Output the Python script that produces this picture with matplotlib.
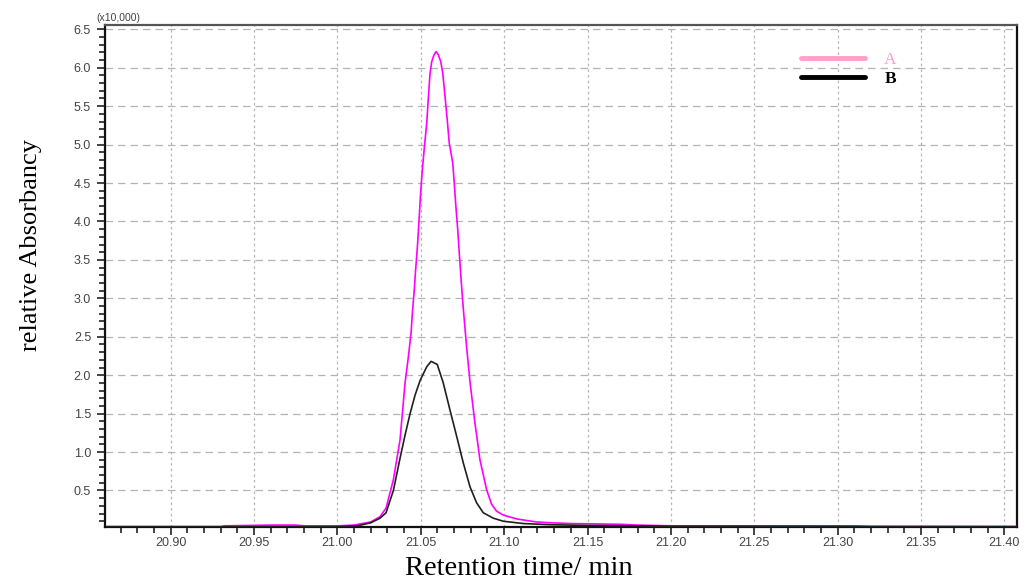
import numpy as np
import matplotlib
matplotlib.use("Agg")
import matplotlib.pyplot as plt
from matplotlib.lines import Line2D
from matplotlib.ticker import MultipleLocator, FormatStrFormatter

# retention time (min) and absorbance (x10,000)
time_a = [20.862, 20.930, 20.932, 20.960, 20.975, 20.980, 21.000, 21.010, 21.020,
          21.0256, 21.0292, 21.0336, 21.0376, 21.0406, 21.0426, 21.0442, 21.0450,
          21.0460, 21.0468, 21.0480, 21.0490, 21.0498, 21.0508, 21.0522, 21.0536,
          21.0546, 21.0556, 21.0566, 21.0580, 21.0592, 21.0605, 21.0620, 21.0632,
          21.0646, 21.0659, 21.0671, 21.0692, 21.0701, 21.0711, 21.0722, 21.0731,
          21.0741, 21.0751, 21.0761, 21.0775, 21.0796, 21.0825, 21.0855, 21.0895,
          21.0925, 21.0955, 21.0995, 21.1075, 21.1195, 21.1275, 21.140, 21.170,
          21.180, 21.200, 21.310, 21.320, 21.4075]
abs_a = [0.02, 0.02, 0.04, 0.05, 0.05, 0.04, 0.04, 0.05, 0.09,
         0.16, 0.27, 0.64, 1.16, 1.90, 2.24, 2.55, 2.81,
         3.07, 3.33, 3.67, 4.02, 4.32, 4.63, 4.97, 5.28,
         5.62, 5.93, 6.08, 6.17, 6.21, 6.17, 6.08, 5.93,
         5.62, 5.32, 5.02, 4.76, 4.50, 4.19, 3.89, 3.59,
         3.28, 2.98, 2.72, 2.37, 1.90, 1.38, 0.90, 0.51,
         0.32, 0.23, 0.18, 0.13, 0.09, 0.08, 0.07, 0.06,
         0.05, 0.04, 0.04, 0.03, 0.03]

time_b = [20.862, 20.950, 21.000, 21.012, 21.0201, 21.0256, 21.0292, 21.0336,
          21.0376, 21.0406, 21.0436, 21.0466, 21.0496, 21.0536, 21.0562, 21.0599,
          21.0635, 21.0675, 21.0716, 21.0755, 21.0795, 21.0835, 21.0875, 21.0935,
          21.0995, 21.1115, 21.1275, 21.150, 21.200, 21.4075]
abs_b = [0.03, 0.03, 0.03, 0.04, 0.08, 0.14, 0.21, 0.50,
         0.92, 1.22, 1.50, 1.74, 1.93, 2.11, 2.18, 2.14,
         1.90, 1.55, 1.20, 0.86, 0.55, 0.34, 0.21, 0.14,
         0.10, 0.07, 0.055, 0.045, 0.035, 0.03]

labels = ["A", "B"]

W, H = 1025, 580
fig = plt.figure(figsize=(W / 100, H / 100), dpi=100)
ax = fig.add_axes([105 / W, 1 - 527 / H, 912 / W, 502 / H])

ax.plot(time_a, abs_a, color="#ff00ff", lw=1.2, zorder=3)
ax.plot(time_b, abs_b, color="#202020", lw=1.2, zorder=4)

ax.set_xlim(20.8607, 21.4075)
ax.set_ylim(0.025, 6.556)

ax.xaxis.set_major_locator(MultipleLocator(0.05))
ax.xaxis.set_minor_locator(MultipleLocator(0.01))
ax.yaxis.set_major_locator(MultipleLocator(0.5))
ax.yaxis.set_minor_locator(MultipleLocator(0.1))
ax.xaxis.set_major_formatter(FormatStrFormatter("%.2f"))
ax.yaxis.set_major_formatter(FormatStrFormatter("%.1f"))

ax.tick_params(which="major", direction="out", length=6, width=1.2, color="#222222",
               labelsize=9, labelcolor="#444444", pad=4)
ax.tick_params(axis="x", which="major", pad=1)
ax.tick_params(which="minor", direction="out", length=4, width=1.2, color="#222222")
for lab in ax.get_xticklabels() + ax.get_yticklabels():
    lab.set_family("Liberation Sans")

# grid: long dashes across, short dashes up
ax.grid(True, axis="y", which="major", color="#b4b4b4", lw=0.9, ls=(0, (6, 4)))
ax.grid(True, axis="x", which="major", color="#b4b4b4", lw=0.9, ls=(0, (2, 2.5)))
ax.set_axisbelow(True)

for side in ["left", "bottom", "right"]:
    ax.spines[side].set_linewidth(1.6)
    ax.spines[side].set_color("#111111")
ax.spines["top"].set_linewidth(1.6)
ax.spines["top"].set_color("#555555")

ax.text(-0.01, 1.004, "(x10,000)", transform=ax.transAxes, fontsize=7.5,
        family="Liberation Sans", color="#444444", ha="left", va="bottom")

fig.text(519 / W, 1 - 575 / H, "Retention time/ min", family="Liberation Serif",
         fontsize=20.5, ha="center", va="baseline")
fig.text(31 / W, 1 - 245 / H, "relative Absorbancy", family="Liberation Serif",
         fontsize=19, rotation=90, ha="center", va="center")

handles = [Line2D([0], [0], color="#ffa0c8", lw=3.5, solid_capstyle="round"),
           Line2D([0], [0], color="black", lw=3.5, solid_capstyle="round")]
leg = ax.legend(handles, labels, loc="upper left", bbox_to_anchor=(0.746, 0.978),
                frameon=False, handlelength=3.7, handletextpad=1.1, labelspacing=0.15,
                prop={"family": "Liberation Serif", "size": 12.5})
leg.get_texts()[0].set_color("#ffa0c8")
leg.get_texts()[1].set_color("black")
leg.get_texts()[1].set_weight("bold")

fig.savefig("out.png", dpi=100)
